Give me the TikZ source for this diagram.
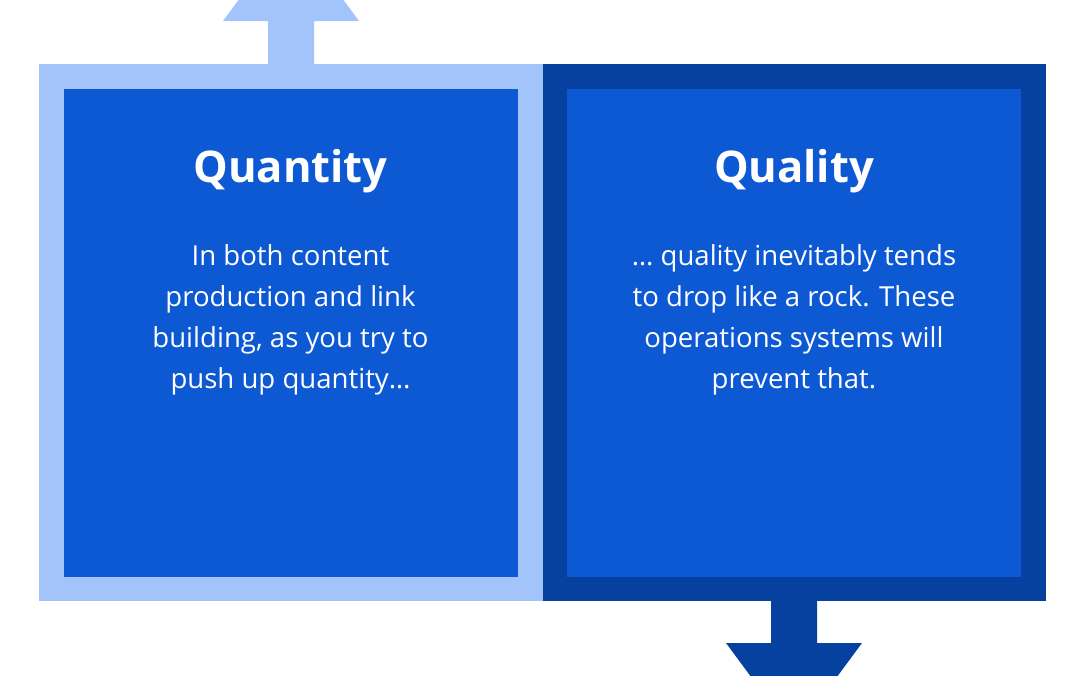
\documentclass[tikz,border=0pt]{standalone}
\usepackage{fontspec}
\setmainfont{Open Sans}[Ligatures=NoCommon]
\usetikzlibrary{positioning,calc}

\definecolor{paleblue}{RGB}{163,196,250}
\definecolor{midblue}{RGB}{13,88,211}
\definecolor{deepblue}{RGB}{6,65,160}

\tikzset{
  panel/.style={inner sep=0pt, outer sep=0pt, minimum width=#1},
  frame/.style={panel=12.575cm, minimum height=13.425cm},
  card/.style={panel=11.35cm, minimum height=12.2cm, fill=midblue},
  heading/.style={text=white, font=\fontsize{31}{36}\selectfont\bfseries, inner sep=0pt, anchor=base},
  blurb/.style={text=white, font=\fontsize{19.6}{29.2}\selectfont, align=center, inner sep=0pt, anchor=north}
}

\begin{document}
\begin{tikzpicture}
        \useasboundingbox (0,0) rectangle (27,-16.875);

        % Frames (pale one overlaps the seam a little)
        \node[frame, fill=deepblue] (qlyframe) at (19.85,-8.3125) {};
        \node[frame, minimum width=12.6cm, fill=paleblue] (qtyframe) at (7.275,-8.3125) {};

        % Up arrow on quantity side
        \coordinate (uptip) at ($(qtyframe.north)+(0,3.375)$);
        \fill[paleblue] ([xshift=-0.575cm]qtyframe.north) |- ([xshift=-1.7cm,yshift=1.075cm]qtyframe.north)
            -- (uptip) -- ([xshift=1.7cm,yshift=1.075cm]qtyframe.north) -| ([xshift=0.575cm]qtyframe.north) -- cycle;

        % Down arrow on quality side
        \coordinate (downtip) at ($(qlyframe.south)+(0,-3.35)$);
        \fill[deepblue] ([xshift=-0.575cm]qlyframe.south) |- ([xshift=-1.7cm,yshift=-1.05cm]qlyframe.south)
            -- (downtip) -- ([xshift=1.7cm,yshift=-1.05cm]qlyframe.south) -| ([xshift=0.575cm]qlyframe.south) -- cycle;

        % Inner cards
        \node[card] (qtybox) at (7.2625,-8.3125) {};
        \node[card] (qlybox) at (qlyframe) {};

        % Titles
        \node[heading] (qtytitle) at ($(qtybox.north)+(0,-2.35)$) {Quantity};
        \node[heading] (qlytitle) at ($(qlybox.north)+(0,-2.35)$) {Quality};

        % Texts
        \node[blurb] (qtytext) at ($(qtybox.north)+(0,-3.9)$) {In both content\\production and link\\building, as you try to\\push up quantity\dots};
        \node[blurb] (qlytext) at ($(qlybox.north)+(0,-3.9)$) {\dots\ quality inevitably tends\\to drop like a rock. These\\operations systems will\\prevent that.};
    \end{tikzpicture}
\end{document}
